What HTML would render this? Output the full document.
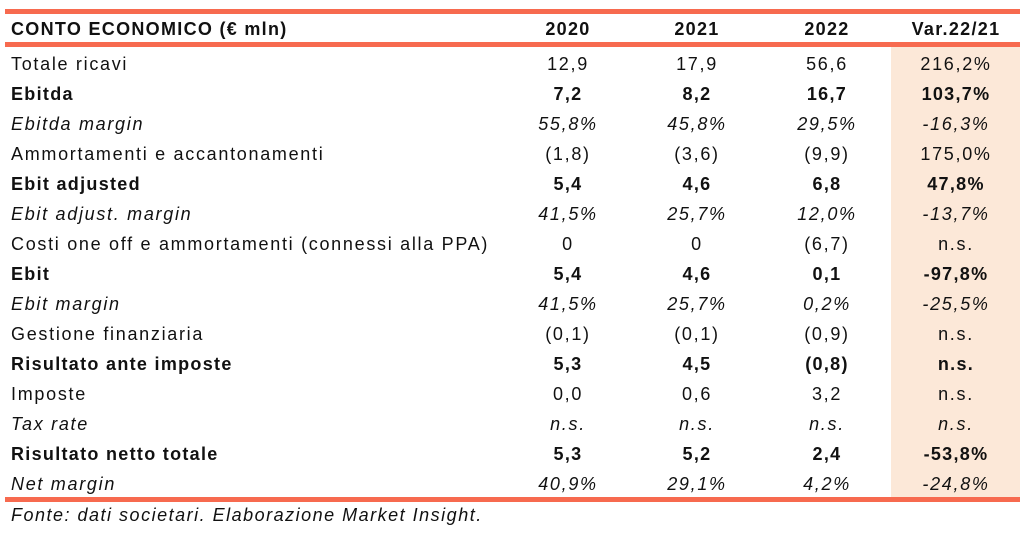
<!DOCTYPE html>
<html><head><meta charset="utf-8"><style>
body{margin:0;width:1025px;height:546px;background:#fff;position:relative;overflow:hidden;font-family:"Liberation Sans",sans-serif;color:#111}
.l{position:absolute;left:5px;width:1015px;background:#f76a4f}
.shade{position:absolute;left:891px;width:129px;top:47px;height:450px;background:#fce8d8}
.r{position:absolute;left:0;width:1025px;height:30px;line-height:30px;font-size:18px;letter-spacing:1.7px}
.r.b{letter-spacing:1.3px}
.r span{position:absolute;white-space:nowrap}
.c0{left:11px}
.c{width:140px;text-align:center}
.c1{left:498px}.c2{left:627px}.c3{left:757px}.c4{left:886px}
.b{font-weight:bold}.i{font-style:italic}
.foot{position:absolute;left:11px;top:505px;font-size:18px;font-style:italic;letter-spacing:1.5px}
</style></head><body>
<div class="shade"></div>
<div class="l" style="top:9px;height:5px"></div>
<div class="l" style="top:42px;height:5px"></div>
<div class="l" style="top:497px;height:5px"></div>
<div class="r b" style="top:14px">
<span class="c0">CONTO ECONOMICO (€ mln)</span><span class="c c1">2020</span><span class="c c2">2021</span><span class="c c3">2022</span><span class="c c4">Var.22/21</span></div>
<div id="rows"></div>
<div class="foot">Fonte: dati societari. Elaborazione Market Insight.</div>
<script>
const labels=["Totale ricavi","Ebitda","Ebitda margin","Ammortamenti e accantonamenti","Ebit adjusted","Ebit adjust. margin","Costi one off  e ammortamenti (connessi alla PPA)","Ebit","Ebit margin","Gestione finanziaria","Risultato ante imposte","Imposte","Tax rate","Risultato netto totale","Net margin"];
const styles=["","b","i","","b","i","","b","i","","b","","i","b","i"];
const v2020=["12,9","7,2","55,8%","(1,8)","5,4","41,5%","0","5,4","41,5%","(0,1)","5,3","0,0","n.s.","5,3","40,9%"];
const v2021=["17,9","8,2","45,8%","(3,6)","4,6","25,7%","0","4,6","25,7%","(0,1)","4,5","0,6","n.s.","5,2","29,1%"];
const v2022=["56,6","16,7","29,5%","(9,9)","6,8","12,0%","(6,7)","0,1","0,2%","(0,9)","(0,8)","3,2","n.s.","2,4","4,2%"];
const varr=["216,2%","103,7%","-16,3%","175,0%","47,8%","-13,7%","n.s.","-97,8%","-25,5%","n.s.","n.s.","n.s.","n.s.","-53,8%","-24,8%"];
const host=document.getElementById('rows');
labels.forEach((lab,k)=>{
  const r=document.createElement('div');
  r.className='r '+styles[k];
  r.style.top=(49+k*30)+'px';
  
  
  const cells=[[lab,'c0'],[v2020[k],'c c1'],[v2021[k],'c c2'],[v2022[k],'c c3'],[varr[k],'c c4']];
  cells.forEach(([t,cl])=>{const s=document.createElement('span');s.className=cl;s.textContent=t;
    
    
    r.appendChild(s);});
  host.appendChild(r);
});
</script>
</body></html>
